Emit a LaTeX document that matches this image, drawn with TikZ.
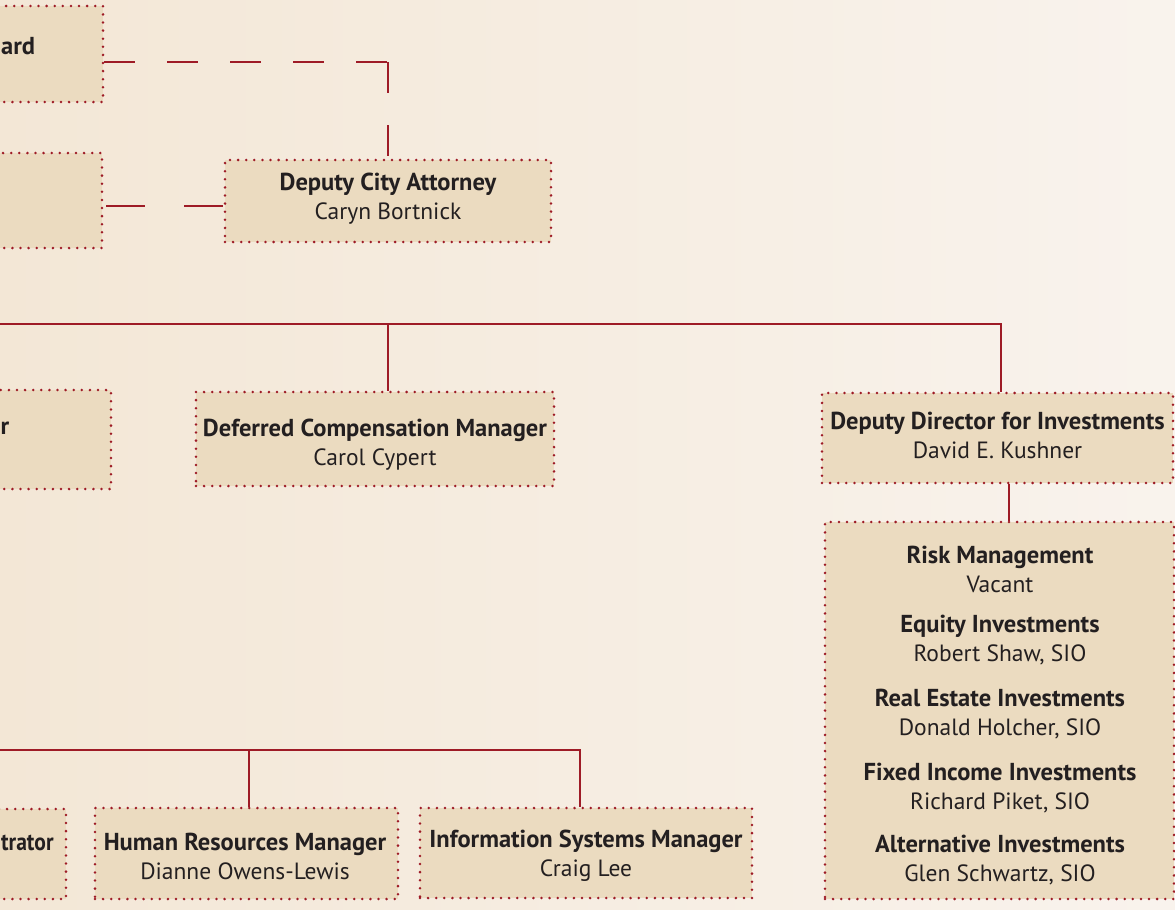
\documentclass[tikz,border=0pt]{standalone}
\usepackage{fontspec}
\setmainfont{PT Sans}
\usetikzlibrary{calc}
\definecolor{bgL}{RGB}{243,231,214}
\definecolor{bgR}{RGB}{249,243,237}
\definecolor{fillc}{RGB}{235,219,192}
\definecolor{linec}{RGB}{158,27,38}
\definecolor{txt}{RGB}{35,31,32}
\newcommand{\ttlfont}{\fontsize{24.5}{29}\selectfont\bfseries}
\newcommand{\nmfont}{\fontsize{23.5}{29}\selectfont}
\begin{document}
\begin{tikzpicture}[x=1pt,y=-1pt,
  box/.style={draw=linec, fill=fillc, line width=2.8pt, dash pattern=on 0pt off 8.1pt, line cap=round, inner sep=0pt},
  lbl/.style={inner sep=0pt, align=center, text=txt, font=\nmfont},
  conn/.style={draw=linec, line width=1.3pt},
  dconn/.style={conn, dash pattern=on 31pt off 32pt},
  dconnb/.style={conn, dash pattern=on 39pt off 39pt},
  frag/.style={text=txt, font=\ttlfont, inner sep=0pt}]
\useasboundingbox (0,0) rectangle (1175,910);
\clip (0,0) rectangle (1175,910);
\shade[left color=bgL, right color=bgR] (0,0) rectangle (1175,910);

% boxes
\node[box, minimum width=123pt, minimum height=96pt] (A) at (41.5,54) {};
\node[frag, anchor=west] (At) at (1,46) {ard};
\node[box, minimum width=122pt, minimum height=95pt] (B) at (41,200.5) {};
\node[box, minimum width=326pt, minimum height=82pt] (dca) at (388,201) {};
\node[lbl] (dcat) at (388,198.5) {{\ttlfont Deputy City Attorney}\\Caryn Bortnick};
\node[box, minimum width=131pt, minimum height=99pt] (C) at (45.5,439.5) {};
\node[frag, anchor=west] (Ct) at (0.5,428) {r};
\node[box, minimum width=358pt, minimum height=94pt] (dcm) at (375,439) {};
\node[lbl] (dcmt) at (375,445) {{\ttlfont Deferred Compensation Manager}\\Carol Cypert};
\node[box, minimum width=351pt, minimum height=90pt] (ddi) at (997.5,438) {};
\node[lbl] (ddit) at (997.5,435) {{\ttlfont Deputy Director for Investments}\\David E. Kushner};
\node[box, minimum width=349pt, minimum height=377pt] (inv) at (999.5,710.5) {};
\node[lbl] (invt) at (1000,716) {%
  {\ttlfont Risk Management}\\Vacant\\[11pt]
  {\ttlfont Equity Investments}\\Robert Shaw, SIO\\[16pt]
  {\ttlfont Real Estate Investments}\\Donald Holcher, SIO\\[16pt]
  {\ttlfont Fixed Income Investments}\\Richard Piket, SIO\\[14pt]
  {\ttlfont Alternative Investments}\\Glen Schwartz, SIO};
\node[box, minimum width=86pt, minimum height=90pt] (D) at (23,854) {};
\node[frag, anchor=west] (Dt) at (1,843) {\scalebox{0.88}[1]{trator}};
\node[box, minimum width=303pt, minimum height=91pt] (hr) at (246.5,853.5) {};
\node[lbl] (hrt) at (245,856) {{\ttlfont Human Resources Manager}\\Dianne Owens-Lewis};
\node[box, minimum width=332pt, minimum height=90pt] (is) at (586,853) {};
\node[lbl] (ist) at (586,856) {{\ttlfont Information Systems Manager}\\Craig Lee};

% dashed connectors
\coordinate (k1) at (388,62);
\draw[dconn] (A.east |- k1) -- (k1);
\draw[dconn] (k1) -- (dca.north);
\coordinate (k2) at (0,206);
\draw[dconnb] ($(B.east |- k2)+(3,0)$) -- (dca.west |- k2);

% solid connectors
\coordinate (h0) at (-5,324);
\coordinate (h1) at (388,324);
\coordinate (h2) at (1001,324);
\draw[conn] (h0) -- (h2) -- (h2 |- ddi.north);
\draw[conn] (h1) -- (h1 |- dcm.north);
\coordinate (v3) at (1009,500);
\draw[conn] (v3 |- ddi.south) -- (v3 |- inv.north);
\coordinate (b0) at (-5,750);
\coordinate (b1) at (249,750);
\coordinate (b2) at (580,750);
\draw[conn] (b0) -- (b2) -- (b2 |- is.north);
\draw[conn] (b1) -- (b1 |- hr.north);
\end{tikzpicture}
\end{document}
